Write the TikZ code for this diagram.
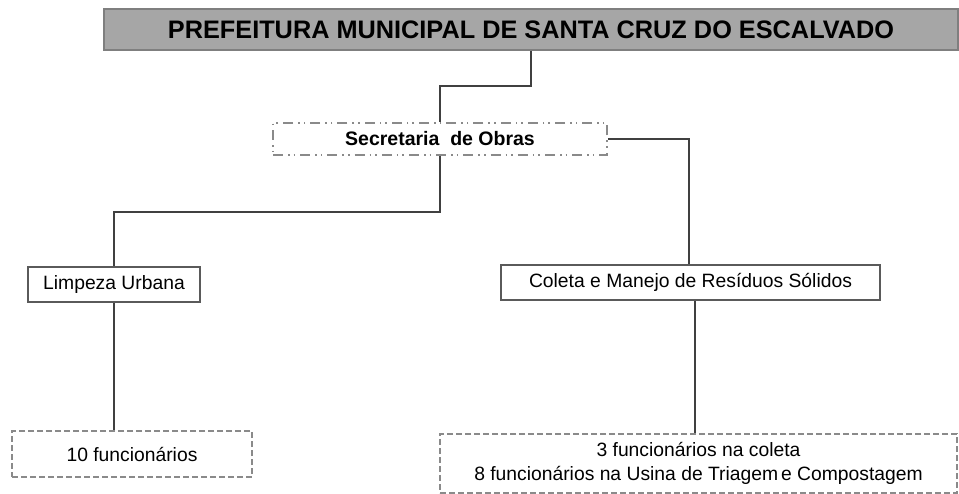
\documentclass[tikz,border=0pt]{standalone}
\usepackage{fontspec}
\setmainfont{Liberation Sans}
\definecolor{titlefill}{HTML}{A6A6A6}
\definecolor{titledraw}{HTML}{7F7F7F}
\definecolor{linec}{HTML}{404040}
\definecolor{boxc}{HTML}{5A5A5A}
\definecolor{dashc}{HTML}{8A8A8A}
\begin{document}
\begin{tikzpicture}[x=1pt,y=-1pt,
  titlebox/.style={draw=titledraw,fill=titlefill,line width=1.2pt,inner sep=0pt,
    font=\fontsize{25.3}{28}\selectfont\bfseries},
  secbox/.style={draw=dashc,line width=1.6pt,inner sep=0pt,
    dash pattern=on 10pt off 5pt on 1.6pt off 4pt on 1.6pt off 5pt,
    font=\fontsize{19.5}{24}\selectfont\bfseries},
  solidbox/.style={draw=boxc,line width=1.4pt,inner sep=0pt,
    font=\fontsize{19.3}{24}\selectfont},
  dashbox/.style={draw=dashc,line width=1.6pt,inner sep=0pt,
    dash pattern=on 6pt off 3pt,align=center,
    font=\fontsize{19.3}{24.5}\selectfont},
  conn/.style={draw=linec,line width=1.4pt}]
\useasboundingbox (0,0) rectangle (959,493);
\node[titlebox,minimum width=854pt,minimum height=41pt] (top) at (531,29.5)
  {PREFEITURA MUNICIPAL DE SANTA CRUZ DO ESCALVADO};
\node[secbox,minimum width=334pt,minimum height=32pt] (sec) at (440,139)
  {Secretaria\ \ de Obras};
\node[solidbox,minimum width=172pt,minimum height=35pt] (limp) at (114,284.5)
  {Limpeza Urbana};
\node[solidbox,minimum width=379pt,minimum height=35pt] (col) at (690.5,282.5)
  {Coleta e Manejo de Resíduos Sólidos};
\node[dashbox,minimum width=240pt,minimum height=46pt] (f10) at (132,454)
  {10 funcionários};
\node[dashbox,minimum width=517pt,minimum height=59pt] (f3) at (698.5,463.5)
  {3 funcionários na coleta\\8 funcionários na Usina de Triagem\kern0.15em e Compostagem};
\coordinate (c1) at (531,86);
\coordinate (c2) at (440,86);
\coordinate (c3) at (689,139);
\coordinate (c4) at (440,212);
\coordinate (c5) at (114,212);
\coordinate (c6) at (695,0);
\draw[conn] (top.south -| c1) -- (c1) -- (c2) -- (sec.north -| c2);
\draw[conn] (sec.east) -- (c3) -- (col.north -| c3);
\draw[conn] (sec.south -| c4) -- (c4) -- (c5) -- (limp.north -| c5);
\draw[conn] (limp.south) -- (limp.south |- f10.north);
\draw[conn] (col.south -| c6) -- (f3.north -| c6);
\end{tikzpicture}
\end{document}
